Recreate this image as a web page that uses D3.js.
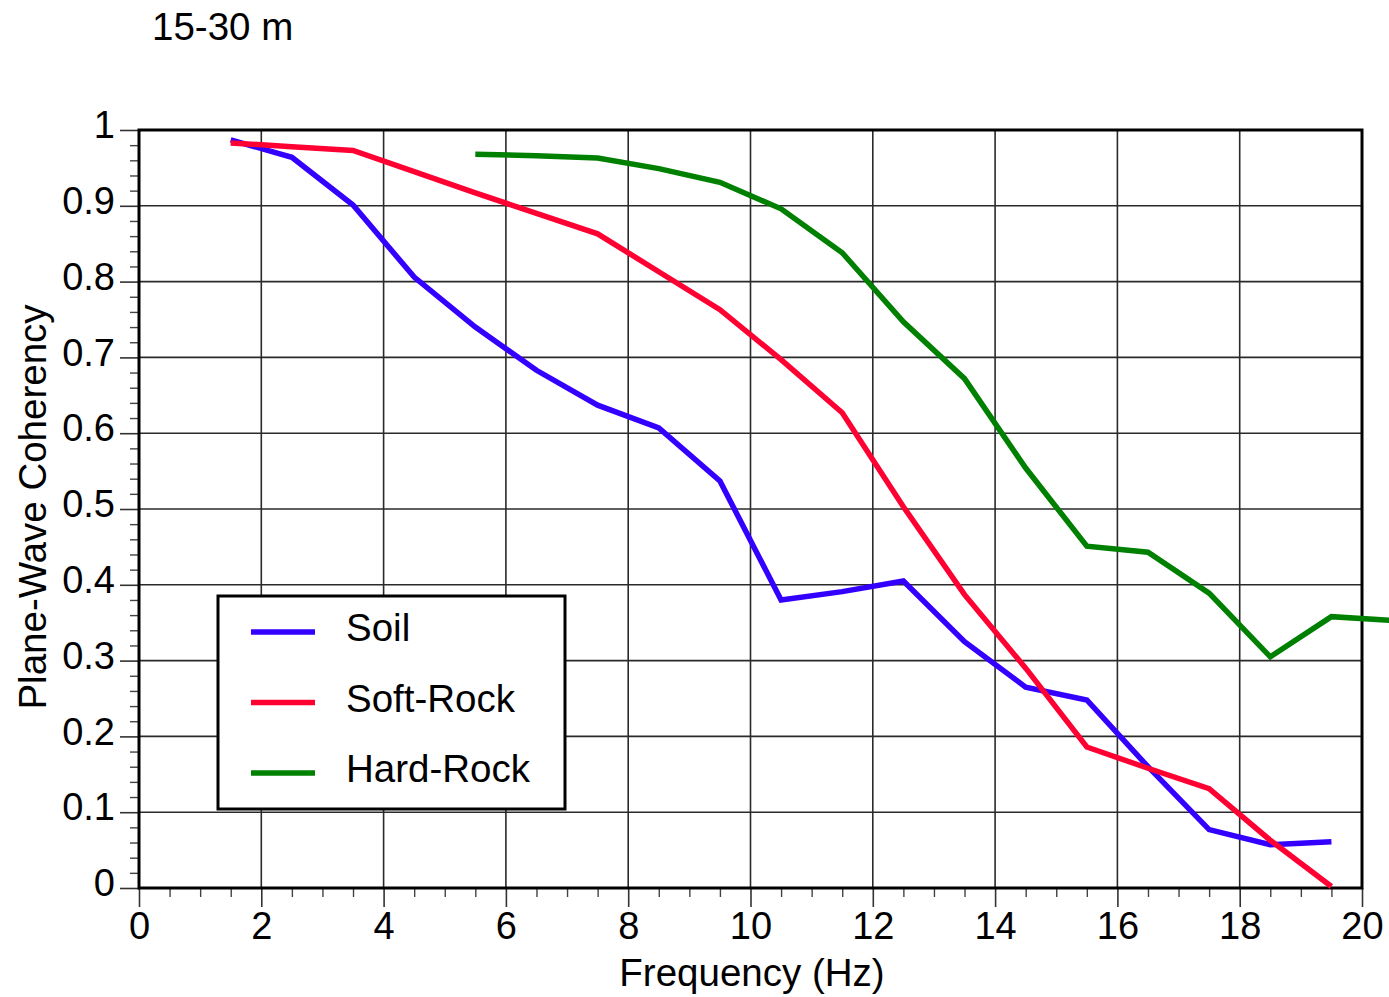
<!DOCTYPE html>
<html>
<head>
<meta charset="utf-8">
<script src="https://cdn.jsdelivr.net/npm/d3@7"></script>
<style>
  html, body { margin: 0; padding: 0; background: #fff; }
  svg { display: block; }
  text { font-family: "Liberation Sans", Arial, Helvetica, sans-serif; fill: #000; }
</style>
</head>
<body>
<svg id="chart" width="1389" height="997"></svg>
<script>
// Plane-wave coherency vs frequency, separation 15-30 m
const frequency = [1.5, 2.5, 3.5, 4.5, 5.5, 6.5, 7.5, 8.5, 9.5, 10.5, 11.5, 12.5, 13.5, 14.5, 15.5, 16.5, 17.5, 18.5, 19.5];
const soil = [0.987, 0.964, 0.901, 0.806, 0.740, 0.683, 0.637, 0.607, 0.537, 0.380, 0.391, 0.405, 0.325, 0.265, 0.248, 0.160, 0.077, 0.057, 0.061];
const softRock = [0.983, 0.978, 0.973, 0.945, 0.917, 0.890, 0.863, 0.813, 0.763, 0.697, 0.627, 0.503, 0.387, 0.290, 0.186, 0.158, 0.131, 0.063, 0.002];
const hardRockFrequency = [5.5, 6.5, 7.5, 8.5, 9.5, 10.5, 11.5, 12.5, 13.5, 14.5, 15.5, 16.5, 17.5, 18.5, 19.5, 20.5];
const hardRock = [0.968, 0.966, 0.963, 0.949, 0.931, 0.896, 0.838, 0.747, 0.672, 0.554, 0.451, 0.443, 0.389, 0.305, 0.358, 0.353];

const xTicks = [0, 2, 4, 6, 8, 10, 12, 14, 16, 18, 20];
const yTicks = [0, 0.1, 0.2, 0.3, 0.4, 0.5, 0.6, 0.7, 0.8, 0.9, 1];
const yTickLabels = ["0", "0.1", "0.2", "0.3", "0.4", "0.5", "0.6", "0.7", "0.8", "0.9", "1"];

const series = [
  { name: "Soil", color: "#3300ff", x: frequency, y: soil },
  { name: "Soft-Rock", color: "#ff0033", x: frequency, y: softRock },
  { name: "Hard-Rock", color: "#008000", x: hardRockFrequency, y: hardRock }
];

const svg = d3.select("#chart");
const plotLeft = 139, plotRight = 1362, plotTop = 130, plotBottom = 888;

const x = d3.scaleLinear().domain([0, 20]).range([plotLeft, plotRight]);
const y = d3.scaleLinear().domain([0, 1]).range([plotBottom, plotTop]);

const tickFont = 38;
const labelFont = 38.5;

// grid
const grid = svg.append("g").attr("stroke", "#2a2a2a").attr("stroke-width", 1.6);
grid.selectAll("line.vx").data(xTicks.slice(1, -1)).join("line")
  .attr("x1", d => x(d)).attr("x2", d => x(d)).attr("y1", plotTop).attr("y2", plotBottom);
grid.selectAll("line.hy").data(yTicks.slice(1, -1)).join("line")
  .attr("x1", plotLeft).attr("x2", plotRight).attr("y1", d => y(d)).attr("y2", d => y(d));

// x axis: major and minor ticks
const xMinor = d3.range(0, 41).map(i => i / 2).filter(v => v % 2 !== 0);
const xAxis = svg.append("g").attr("transform", `translate(0,${plotBottom})`)
  .call(d3.axisBottom(x).tickValues(xTicks).tickSize(19).tickPadding(5).tickFormat(d3.format("d")));
xAxis.select(".domain").remove();
xAxis.selectAll(".tick line").attr("stroke", "#333").attr("stroke-width", 1.6);
xAxis.selectAll(".tick text").attr("font-size", tickFont).attr("font-family", null);
svg.append("g").attr("transform", `translate(0,${plotBottom})`)
  .call(d3.axisBottom(x).tickValues(xMinor).tickSize(9).tickFormat(""))
  .call(g => g.select(".domain").remove())
  .selectAll(".tick line").attr("stroke", "#444").attr("stroke-width", 1.4);

// y axis: major and minor ticks
const yMinor = d3.range(0, 51).filter(i => i % 5 !== 0).map(i => i / 50);
const yAxis = svg.append("g").attr("transform", `translate(${plotLeft},0)`)
  .call(d3.axisLeft(y).tickValues(yTicks).tickSize(19).tickPadding(5).tickFormat((d, i) => yTickLabels[i]));
yAxis.select(".domain").remove();
yAxis.selectAll(".tick line").attr("stroke", "#333").attr("stroke-width", 1.6);
yAxis.selectAll(".tick text").attr("font-size", tickFont).attr("font-family", null).attr("dy", "0.2em");
svg.append("g").attr("transform", `translate(${plotLeft},0)`)
  .call(d3.axisLeft(y).tickValues(yMinor).tickSize(9).tickFormat(""))
  .call(g => g.select(".domain").remove())
  .selectAll(".tick line").attr("stroke", "#444").attr("stroke-width", 1.4);

// frame
svg.append("rect")
  .attr("x", plotLeft).attr("y", plotTop).attr("width", plotRight - plotLeft).attr("height", plotBottom - plotTop)
  .attr("fill", "none").attr("stroke", "#000").attr("stroke-width", 3);

// data lines
const line = d3.line().x(d => x(d[0])).y(d => y(d[1]));
svg.append("g").selectAll("path").data(series).join("path")
  .attr("d", s => line(s.x.map((f, i) => [f, s.y[i]])))
  .attr("fill", "none")
  .attr("stroke", s => s.color)
  .attr("stroke-width", 5.5)
  .attr("stroke-linejoin", "miter");

// legend
const legend = svg.append("g");
legend.append("rect")
  .attr("x", 218).attr("y", 596).attr("width", 347).attr("height", 213)
  .attr("fill", "#fff").attr("stroke", "#000").attr("stroke-width", 3);
const rows = legend.selectAll("g.row").data(series).join("g")
  .attr("transform", (d, i) => `translate(0,${632 + i * 70.5})`);
rows.append("line")
  .attr("x1", 251).attr("x2", 315).attr("y1", 0).attr("y2", 0)
  .attr("stroke", d => d.color).attr("stroke-width", 5.5);
rows.append("text")
  .attr("x", 346).attr("y", 9)
  .attr("font-size", labelFont)
  .text(d => d.name);

// titles
svg.append("text").attr("x", 152).attr("y", 40).attr("font-size", labelFont).text("15-30 m");
svg.append("text").attr("x", 752).attr("y", 986).attr("text-anchor", "middle")
  .attr("font-size", labelFont).text("Frequency (Hz)");
svg.append("text")
  .attr("transform", `translate(46,507) rotate(-90)`)
  .attr("text-anchor", "middle").attr("font-size", labelFont)
  .text("Plane-Wave Coherency");
</script>
</body>
</html>
